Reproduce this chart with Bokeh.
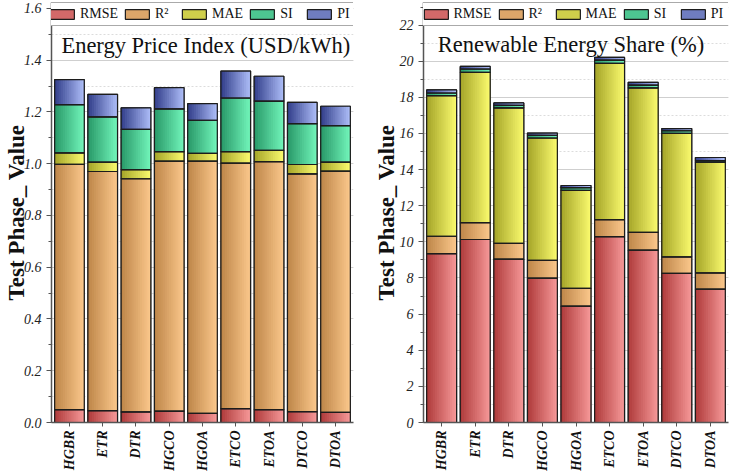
import numpy as np
from bokeh.plotting import figure
from bokeh.layouts import row
from bokeh.models import (ColumnDataSource, FactorRange, Range1d, Legend, LegendItem,
                          Label, SingleIntervalTicker, NumeralTickFormatter)
from bokeh.transform import dodge
from bokeh.embed import file_html
from bokeh.resources import INLINE

# ---------------- data ----------------
models = ["HGBR", "ETR", "DTR", "HGCO", "HGOA", "ETCO", "ETOA", "DTCO", "DTOA"]
metrics = ["RMSE", "R\u00b2", "MAE", "SI", "PI"]

price_rmse = [0.050, 0.046, 0.041, 0.044, 0.035, 0.054, 0.050, 0.042, 0.039]
price_r2   = [0.948, 0.924, 0.901, 0.966, 0.975, 0.948, 0.958, 0.919, 0.932]
price_mae  = [0.044, 0.036, 0.035, 0.037, 0.030, 0.045, 0.044, 0.036, 0.035]
price_si   = [0.186, 0.175, 0.156, 0.165, 0.128, 0.207, 0.190, 0.158, 0.141]
price_pi   = [0.097, 0.087, 0.083, 0.082, 0.064, 0.104, 0.096, 0.082, 0.075]

share_rmse = [9.35, 10.13, 9.04, 7.99, 6.44, 10.29, 9.54, 8.25, 7.38]
share_r2   = [0.96, 0.94, 0.88, 0.99, 0.98, 0.94, 0.99, 0.92, 0.90]
share_mae  = [7.78, 8.31, 7.50, 6.77, 5.43, 8.65, 7.99, 6.83, 6.13]
share_si   = [0.15, 0.19, 0.14, 0.15, 0.15, 0.18, 0.16, 0.15, 0.09]
share_pi   = [0.17, 0.14, 0.13, 0.12, 0.12, 0.15, 0.15, 0.12, 0.17]

price_title = "Energy Price Index (USD/kWh)"
share_title = "Renewable Energy Share (%)"
y_label = "Test Phase_ Value"

# ---------------- style ----------------
FONT = "Liberation Serif"
dark = ["#b03c3c", "#bf874a", "#a6a62a", "#2a9a6a", "#34408c"]
light = ["#f49696", "#f9c68a", "#f8f86c", "#70f3b8", "#aabaf5"]
EDGE = "#1c1c1c"
BW = 0.89
NSTRIP = 14


def hex2rgb(h):
    h = h.lstrip("#")
    return np.array([int(h[i:i + 2], 16) for i in (0, 2, 4)], dtype=float)


def blend(a, b, t):
    c = hex2rgb(a) * (1 - t) + hex2rgb(b) * t
    return "#%02x%02x%02x" % tuple(int(round(v)) for v in c)


def make_chart(series, title, ymax, interval, fmt, title_x, title_y,
               width, border_left, border_right, label_standoff):
    data = {"cat": models}
    cum = np.zeros(len(models))
    for k, vals in enumerate(series):
        data[f"b{k}"] = cum.copy()
        cum = cum + np.array(vals)
        data[f"t{k}"] = cum.copy()
    src = ColumnDataSource(data)

    p = figure(x_range=FactorRange(factors=models, range_padding=0.04,
                                   range_padding_units="absolute"),
               y_range=Range1d(0, ymax), width=width, height=473,
               output_backend="svg", toolbar_location=None, title=None,
               min_border_left=border_left, min_border_right=border_right,
               min_border_top=2, min_border_bottom=50)
    p.outline_line_color = None
    p.background_fill_color = "white"

    bases = []
    for k in range(len(series)):
        mid = blend(dark[k], light[k], 0.5)
        base = p.vbar(x="cat", width=BW, bottom=f"b{k}", top=f"t{k}", source=src,
                      fill_color=mid, line_color=EDGE, line_width=1.2)
        bases.append(base)
        for i in range(NSTRIP):
            off = -BW / 2 + (i + 0.5) * BW / NSTRIP
            c = blend(dark[k], light[k], i / (NSTRIP - 1))
            p.vbar(x=dodge("cat", off, range=p.x_range), width=BW / NSTRIP * 1.25,
                   bottom=f"b{k}", top=f"t{k}", source=src,
                   fill_color=c, line_color=None)
    for k in range(len(series)):
        p.vbar(x="cat", width=BW, bottom=f"b{k}", top=f"t{k}", source=src,
               fill_alpha=0, line_color=EDGE, line_width=1.2)

    legend = Legend(items=[LegendItem(label=m, renderers=[bases[k]])
                           for k, m in enumerate(metrics)],
                    orientation="horizontal", location="top_center",
                    margin=0, padding=3, spacing=4, label_standoff=3,
                    glyph_width=30, glyph_height=12, label_height=14,
                    label_text_font=FONT, label_text_font_size="14px",
                    label_text_color="#111111",
                    border_line_color="#555555", border_line_width=1,
                    background_fill_color="white", background_fill_alpha=1)
    p.add_layout(legend, "center")

    p.add_layout(Label(x=title_x, y=title_y, text=title, text_font=FONT,
                       text_font_size="22.5px", text_align="center",
                       text_baseline="alphabetic", text_color="#111111"))

    # y axis
    yax = p.yaxis[0]
    yax.ticker = SingleIntervalTicker(interval=interval, num_minor_ticks=2)
    yax.formatter = NumeralTickFormatter(format=fmt)
    yax.axis_label = y_label
    yax.axis_label_text_font = FONT
    yax.axis_label_text_font_style = "bold"
    yax.axis_label_text_font_size = "23px"
    yax.axis_label_text_color = "#111111"
    yax.axis_label_standoff = label_standoff
    yax.major_label_text_font = FONT
    yax.major_label_text_font_style = "italic"
    yax.major_label_text_font_size = "14px"
    yax.major_label_text_color = "#222222"
    yax.major_label_standoff = 5
    yax.major_tick_out = 5
    yax.minor_tick_out = 3

    # x axis
    xax = p.xaxis[0]
    xax.major_label_orientation = np.pi / 2
    xax.major_label_text_font = FONT
    xax.major_label_text_font_style = "bold italic"
    xax.major_label_text_font_size = "14px"
    xax.major_label_text_color = "#111111"
    xax.major_label_standoff = 4
    xax.major_tick_out = 4

    for ax in (xax, yax):
        ax.axis_line_color = "#555555"
        ax.axis_line_width = 1.5
        ax.major_tick_line_color = "#555555"
        ax.minor_tick_line_color = "#555555"
        ax.major_tick_in = 0
        ax.minor_tick_in = 0

    p.xgrid.grid_line_color = None
    p.ygrid.grid_line_color = "#cfcfcf"
    p.ygrid.grid_line_width = 1
    p.ygrid.minor_grid_line_color = "#dcdcdc"
    p.ygrid.minor_grid_line_dash = "2 2"
    p.ygrid.level = "underlay"
    return p


p1 = make_chart([price_rmse, price_r2, price_mae, price_si, price_pi],
                price_title, 1.623, 0.2, "0.0", 4.6, 1.456,
                width=360, border_left=47, border_right=7, label_standoff=-8)
p2 = make_chart([share_rmse, share_r2, share_mae, share_si, share_pi],
                share_title, 23.25, 2, "0", 4.35, 20.9,
                width=369, border_left=63, border_right=1, label_standoff=-2)

layout = row(p1, p2)
open("out.html", "w").write(file_html(layout, INLINE))
